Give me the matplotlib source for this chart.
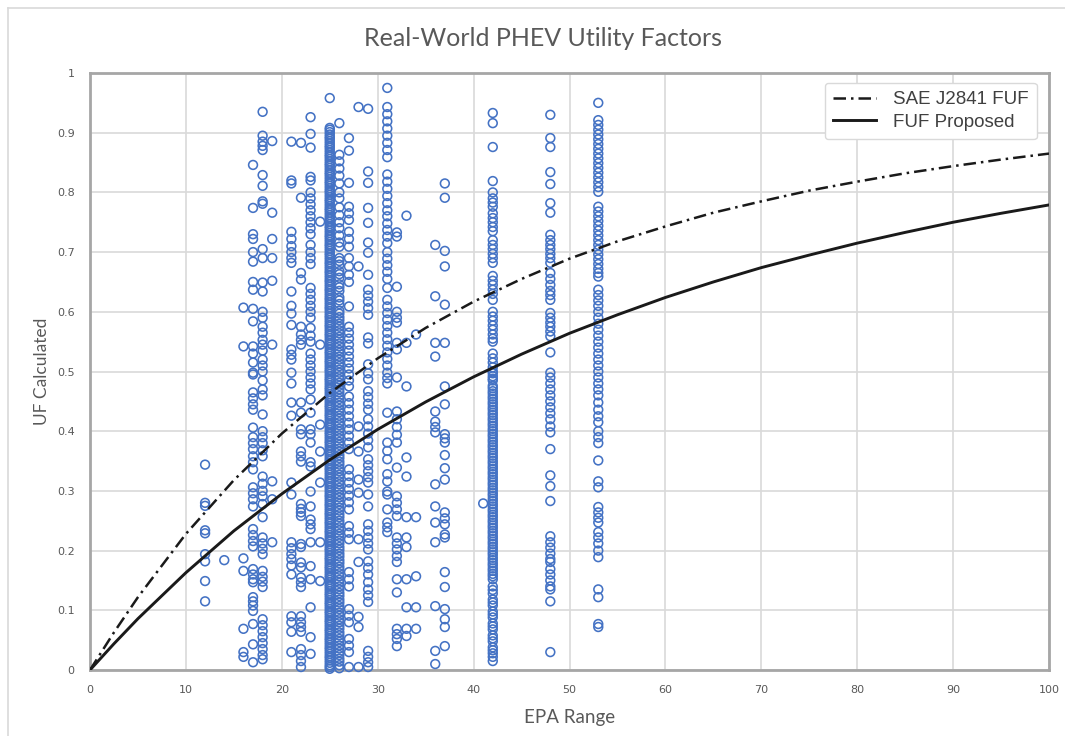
import matplotlib
matplotlib.use("Agg")
import matplotlib.pyplot as plt
from matplotlib.lines import Line2D
import numpy as np

# ---------------- data ----------------
curve_x = [0, 2.5, 5, 10, 15, 20, 25, 30, 35, 40, 45, 50, 55, 60, 65, 70, 75, 80, 85, 90, 95, 100]
sae_fuf = [0, 0.063, 0.122, 0.228, 0.318, 0.396, 0.464, 0.522, 0.573, 0.617, 0.655, 0.689,
           0.718, 0.743, 0.766, 0.785, 0.803, 0.818, 0.832, 0.844, 0.855, 0.865]
fuf_proposed = [0, 0.044, 0.086, 0.163, 0.233, 0.295, 0.352, 0.403, 0.449, 0.491, 0.529, 0.564,
                0.595, 0.624, 0.650, 0.674, 0.695, 0.715, 0.733, 0.750, 0.765, 0.779]

col12 = [0.344, 0.280, 0.275, 0.234, 0.229, 0.194, 0.182, 0.149, 0.115]
col14 = [0.184]
col16 = [0.607, 0.542, 0.187, 0.166, 0.069, 0.030, 0.022]
col17 = [0.846, 0.774, 0.730, 0.722, 0.700, 0.684, 0.650, 0.637, 0.605, 0.584, 0.542, 0.530,
         0.515, 0.498, 0.495, 0.465, 0.455, 0.445, 0.436, 0.406, 0.390, 0.380, 0.370, 0.358,
         0.348, 0.336, 0.306, 0.296, 0.286, 0.274, 0.236, 0.226, 0.216, 0.207, 0.169, 0.160,
         0.152, 0.147, 0.122, 0.115, 0.108, 0.099, 0.077, 0.043, 0.013]
col18 = [0.935, 0.895, 0.885, 0.878, 0.871, 0.829, 0.811, 0.785, 0.781, 0.705, 0.690, 0.649,
         0.634, 0.600, 0.590, 0.575, 0.565, 0.553, 0.545, 0.535, 0.520, 0.510, 0.500, 0.485,
         0.470, 0.460, 0.428, 0.400, 0.390, 0.380, 0.368, 0.358, 0.324, 0.312, 0.300, 0.291,
         0.278, 0.256, 0.222, 0.212, 0.203, 0.194, 0.166, 0.156, 0.148, 0.139, 0.085, 0.075,
         0.065, 0.055, 0.045, 0.035, 0.025, 0.018]
col19 = [0.886, 0.766, 0.722, 0.690, 0.652, 0.545, 0.316, 0.286, 0.214]
col21 = [0.885, 0.820, 0.815, 0.734, 0.722, 0.710, 0.700, 0.690, 0.682, 0.634, 0.610, 0.597,
         0.578, 0.537, 0.528, 0.520, 0.498, 0.480, 0.448, 0.426, 0.314, 0.294, 0.214, 0.204,
         0.194, 0.186, 0.175, 0.160, 0.090, 0.080, 0.064, 0.030]
col22 = [0.883, 0.791, 0.665, 0.654, 0.575, 0.562, 0.553, 0.545, 0.448, 0.431, 0.403, 0.395,
         0.366, 0.358, 0.349, 0.278, 0.270, 0.264, 0.258, 0.211, 0.206, 0.180, 0.172, 0.155,
         0.147, 0.139, 0.090, 0.080, 0.072, 0.064, 0.035, 0.025, 0.015, 0.005]
col23 = [0.926, 0.898, 0.875, 0.826, 0.820, 0.800, 0.790, 0.780, 0.770, 0.760, 0.750, 0.740,
         0.730, 0.712, 0.700, 0.690, 0.680, 0.640, 0.630, 0.620, 0.610, 0.600, 0.590, 0.573,
         0.560, 0.550, 0.530, 0.520, 0.510, 0.500, 0.490, 0.480, 0.470, 0.453, 0.431, 0.403,
         0.395, 0.381, 0.348, 0.341, 0.299, 0.274, 0.252, 0.244, 0.236, 0.214, 0.174, 0.152,
         0.105, 0.055, 0.027]
col24 = [0.751, 0.545, 0.411, 0.366, 0.314, 0.214, 0.149]
col25 = [0.958, 0.908, 0.901, 0.893, 0.886, 0.878, 0.871, 0.863, 0.856, 0.848, 0.841, 0.833,
         0.826, 0.818, 0.811, 0.803, 0.796, 0.788, 0.781, 0.773, 0.766, 0.758, 0.751, 0.743,
         0.736, 0.728, 0.721, 0.713, 0.706, 0.698, 0.691, 0.683, 0.676, 0.668, 0.661, 0.653,
         0.646, 0.638, 0.631, 0.623, 0.616, 0.608, 0.601, 0.593, 0.586, 0.578, 0.571, 0.563,
         0.556, 0.548, 0.541, 0.533, 0.526, 0.518, 0.511, 0.503, 0.496, 0.488, 0.481, 0.473,
         0.466, 0.458, 0.451, 0.443, 0.436, 0.428, 0.421, 0.413, 0.406, 0.398, 0.391, 0.383,
         0.376, 0.368, 0.361, 0.353, 0.346, 0.338, 0.331, 0.323, 0.316, 0.308, 0.301, 0.293,
         0.286, 0.278, 0.271, 0.263, 0.256, 0.248, 0.241, 0.233, 0.226, 0.218, 0.211, 0.203,
         0.196, 0.188, 0.181, 0.173, 0.166, 0.158, 0.151, 0.143, 0.136, 0.128, 0.121, 0.113,
         0.106, 0.098, 0.091, 0.083, 0.076, 0.068, 0.061, 0.053, 0.046, 0.038, 0.031, 0.023,
         0.016, 0.008, 0.002]
col25b = [0.905, 0.897, 0.890, 0.882, 0.875, 0.867, 0.860, 0.852, 0.845, 0.837, 0.830, 0.822,
          0.815, 0.807, 0.800, 0.792, 0.785, 0.777, 0.770, 0.762, 0.755, 0.747, 0.740, 0.732,
          0.725, 0.717, 0.710, 0.702, 0.695, 0.687, 0.680, 0.672, 0.665, 0.657, 0.650, 0.642,
          0.635, 0.627, 0.620, 0.612, 0.605, 0.597, 0.590, 0.582, 0.575, 0.567, 0.560, 0.552,
          0.545, 0.537, 0.530, 0.522, 0.515, 0.507, 0.500, 0.492, 0.485, 0.477, 0.470, 0.462,
          0.455, 0.447, 0.440, 0.432, 0.425, 0.417, 0.410, 0.402, 0.395, 0.387, 0.380, 0.372,
          0.365, 0.357, 0.350, 0.342, 0.335, 0.327, 0.320, 0.312, 0.305, 0.297, 0.290, 0.282,
          0.275, 0.267, 0.260, 0.252, 0.245, 0.237, 0.230, 0.222, 0.215, 0.207, 0.200, 0.192,
          0.185, 0.177, 0.170, 0.162, 0.155, 0.147, 0.140, 0.132, 0.125, 0.117, 0.110, 0.102,
          0.095, 0.087, 0.080, 0.072, 0.065, 0.057, 0.050, 0.042, 0.035, 0.027, 0.020, 0.012,
          0.005]
col26 = [0.916, 0.863, 0.852, 0.840, 0.828, 0.815, 0.800, 0.790, 0.775, 0.762, 0.750, 0.740,
         0.728, 0.716, 0.709, 0.690, 0.679, 0.668, 0.657, 0.646, 0.635, 0.624, 0.613, 0.602,
         0.591, 0.580, 0.569, 0.558, 0.547, 0.536, 0.525, 0.514, 0.503, 0.492, 0.481, 0.470,
         0.459, 0.448, 0.437, 0.426, 0.415, 0.404, 0.393, 0.382, 0.371, 0.360, 0.349, 0.338,
         0.327, 0.316, 0.305, 0.294, 0.283, 0.272, 0.261, 0.250, 0.239, 0.228, 0.217, 0.206,
         0.195, 0.184, 0.173, 0.162, 0.151, 0.140, 0.129, 0.118, 0.107, 0.096, 0.085, 0.074,
         0.063, 0.052, 0.041, 0.030, 0.019, 0.008]
col26b = [0.685, 0.663, 0.641, 0.619, 0.597, 0.586, 0.575, 0.564, 0.553, 0.542, 0.531, 0.520,
          0.509, 0.498, 0.487, 0.476, 0.465, 0.454, 0.443, 0.432, 0.421, 0.410, 0.399, 0.388,
          0.377, 0.366, 0.355, 0.344, 0.333, 0.322, 0.311, 0.300, 0.289, 0.278, 0.267, 0.256,
          0.245, 0.234, 0.223, 0.212, 0.201, 0.190, 0.179, 0.168, 0.157, 0.146, 0.135, 0.124,
          0.113, 0.102, 0.091, 0.080, 0.069, 0.058, 0.047, 0.036, 0.025, 0.014, 0.003]
col27 = [0.891, 0.870, 0.816, 0.776, 0.765, 0.754, 0.734, 0.722, 0.709, 0.690, 0.676, 0.662,
         0.650, 0.609, 0.575, 0.565, 0.555, 0.545, 0.535, 0.525, 0.515, 0.505, 0.495, 0.485,
         0.475, 0.458, 0.447, 0.436, 0.425, 0.414, 0.403, 0.392, 0.381, 0.370, 0.336, 0.325,
         0.314, 0.303, 0.292, 0.281, 0.269, 0.241, 0.230, 0.219, 0.164, 0.152, 0.140, 0.102,
         0.091, 0.080, 0.052, 0.041, 0.030, 0.005]
col28 = [0.943, 0.676, 0.408, 0.366, 0.319, 0.297, 0.219, 0.181, 0.089, 0.072, 0.005]
col29 = [0.940, 0.835, 0.816, 0.774, 0.749, 0.716, 0.699, 0.662, 0.637, 0.627, 0.617, 0.606,
         0.595, 0.557, 0.547, 0.512, 0.497, 0.487, 0.467, 0.457, 0.446, 0.436, 0.420, 0.408,
         0.396, 0.385, 0.373, 0.353, 0.343, 0.333, 0.323, 0.314, 0.294, 0.274, 0.244, 0.233,
         0.222, 0.212, 0.202, 0.182, 0.171, 0.160, 0.147, 0.135, 0.125, 0.114, 0.032, 0.022,
         0.013, 0.005]
col31 = [0.975, 0.943, 0.931, 0.919, 0.907, 0.895, 0.883, 0.871, 0.859, 0.830, 0.818, 0.806,
         0.794, 0.782, 0.770, 0.760, 0.748, 0.737, 0.726, 0.715, 0.700, 0.689, 0.678, 0.667,
         0.655, 0.640, 0.620, 0.609, 0.598, 0.587, 0.576, 0.565, 0.554, 0.543, 0.532, 0.521,
         0.510, 0.498, 0.489, 0.480, 0.431, 0.381, 0.367, 0.353, 0.328, 0.316, 0.299, 0.294,
         0.269, 0.247, 0.239, 0.231]
col32 = [0.733, 0.726, 0.642, 0.600, 0.590, 0.582, 0.548, 0.537, 0.490, 0.433, 0.420, 0.407,
         0.394, 0.381, 0.339, 0.291, 0.280, 0.269, 0.258, 0.222, 0.212, 0.202, 0.191, 0.181,
         0.152, 0.130, 0.069, 0.060, 0.052, 0.040]
col33 = [0.761, 0.548, 0.475, 0.356, 0.324, 0.256, 0.222, 0.206, 0.152, 0.105, 0.069, 0.057]
col34 = [0.562, 0.256, 0.157, 0.105, 0.069]
col36 = [0.712, 0.626, 0.548, 0.525, 0.433, 0.416, 0.407, 0.398, 0.311, 0.274, 0.247, 0.214,
         0.107, 0.032, 0.010]
col37 = [0.815, 0.791, 0.702, 0.676, 0.612, 0.548, 0.475, 0.445, 0.395, 0.388, 0.381, 0.360,
         0.338, 0.319, 0.264, 0.254, 0.244, 0.227, 0.222, 0.164, 0.139, 0.102, 0.085, 0.072,
         0.040]
col41 = [0.279]
col42 = [0.933, 0.916, 0.876, 0.819, 0.800, 0.790, 0.783, 0.776, 0.765, 0.757, 0.750, 0.742,
         0.735, 0.720, 0.712, 0.705, 0.697, 0.690, 0.682, 0.660, 0.652, 0.645, 0.637, 0.630,
         0.620, 0.600, 0.592, 0.585, 0.577, 0.570, 0.562, 0.555, 0.550, 0.530, 0.522, 0.515,
         0.507, 0.500, 0.492, 0.485, 0.476, 0.467, 0.458, 0.449, 0.440, 0.431, 0.422, 0.413,
         0.404, 0.395, 0.386, 0.377, 0.368, 0.359, 0.350, 0.341, 0.332, 0.323, 0.314, 0.305,
         0.296, 0.287, 0.278, 0.269, 0.260, 0.251, 0.242, 0.233, 0.224, 0.215, 0.206, 0.197,
         0.188, 0.179, 0.170, 0.161, 0.152, 0.140, 0.128, 0.118, 0.108, 0.098, 0.088, 0.078,
         0.068, 0.058, 0.048, 0.038, 0.028, 0.015]
col42b = [0.497, 0.488, 0.472, 0.463, 0.454, 0.445, 0.436, 0.427, 0.418, 0.409, 0.400, 0.391,
          0.382, 0.373, 0.364, 0.355, 0.346, 0.337, 0.328, 0.319, 0.310, 0.301, 0.292, 0.283,
          0.274, 0.265, 0.256, 0.247, 0.238, 0.229, 0.220, 0.211, 0.202, 0.193, 0.184, 0.175,
          0.166, 0.157, 0.134, 0.113, 0.093, 0.073, 0.053, 0.033, 0.022]
col48 = [0.930, 0.891, 0.876, 0.834, 0.814, 0.782, 0.766, 0.729, 0.720, 0.712, 0.705, 0.697,
         0.690, 0.682, 0.665, 0.655, 0.645, 0.635, 0.628, 0.620, 0.598, 0.590, 0.582, 0.575,
         0.567, 0.559, 0.532, 0.498, 0.490, 0.480, 0.470, 0.460, 0.450, 0.440, 0.430, 0.420,
         0.408, 0.398, 0.370, 0.326, 0.308, 0.283, 0.224, 0.214, 0.205, 0.195, 0.186, 0.181,
         0.169, 0.160, 0.150, 0.140, 0.135, 0.115, 0.030]
col53 = [0.950, 0.921, 0.913, 0.905, 0.897, 0.889, 0.881, 0.873, 0.865, 0.857, 0.849, 0.841,
         0.833, 0.825, 0.817, 0.809, 0.801, 0.776, 0.768, 0.760, 0.752, 0.744, 0.736, 0.728,
         0.720, 0.712, 0.704, 0.696, 0.688, 0.680, 0.672, 0.665, 0.659, 0.637, 0.628, 0.619,
         0.610, 0.600, 0.590, 0.580, 0.570, 0.560, 0.550, 0.540, 0.530, 0.520, 0.510, 0.500,
         0.490, 0.480, 0.470, 0.460, 0.448, 0.436, 0.425, 0.415, 0.400, 0.390, 0.380, 0.351,
         0.316, 0.306, 0.273, 0.264, 0.255, 0.247, 0.231, 0.222, 0.212, 0.200, 0.189, 0.135,
         0.122, 0.077, 0.072]

range_cols = [(12, col12), (14, col14), (16, col16), (17, col17), (18, col18), (19, col19),
              (21, col21), (22, col22), (23, col23), (24, col24), (25, col25), (25, col25b),
              (26, col26), (26, col26b), (27, col27), (28, col28), (29, col29), (31, col31),
              (32, col32), (33, col33), (34, col34), (36, col36), (37, col37), (41, col41),
              (42, col42), (42, col42b), (48, col48), (53, col53)]

x_ticks = [0, 10, 20, 30, 40, 50, 60, 70, 80, 90, 100]
y_ticks = [0, 0.1, 0.2, 0.3, 0.4, 0.5, 0.6, 0.7, 0.8, 0.9, 1]
y_tick_labels = ["0", "0.1", "0.2", "0.3", "0.4", "0.5", "0.6", "0.7", "0.8", "0.9", "1"]

# ---------------- figure ----------------
W, H = 1065, 736
fig = plt.figure(figsize=(W / 100, H / 100), dpi=100)
fig.patch.set_facecolor("white")

# outer chart-area border (light gray)
fig.add_artist(Line2D([8 / W, 8 / W], [0, 1 - 8 / H], color="#d9d9d9", lw=1.2,
                      transform=fig.transFigure))
fig.add_artist(Line2D([8 / W, 1], [1 - 8 / H, 1 - 8 / H], color="#d9d9d9", lw=1.2,
                      transform=fig.transFigure))

ax = fig.add_axes([90 / W, 1 - 670 / H, (1049 - 90) / W, (670 - 73) / H])

xs, ys = [], []
for xv, vals in range_cols:
    xs.extend([xv] * len(vals))
    ys.extend(vals)
ax.scatter(xs, ys, s=40, facecolors="none", edgecolors="#4472C4", linewidths=1.15,
           zorder=3, clip_on=False)

ax.plot(curve_x, sae_fuf, color="#1a1a1a", lw=1.8, linestyle=(0, (5, 2, 1, 2)),
        zorder=4, label="SAE J2841 FUF")
ax.plot(curve_x, fuf_proposed, color="#1a1a1a", lw=2.1, linestyle="-",
        zorder=4, label="FUF Proposed")

ax.set_xlim(0, 100)
ax.set_ylim(0, 1)
ax.set_xticks(x_ticks)
ax.set_xticklabels([str(t) for t in x_ticks])
ax.set_yticks(y_ticks)
ax.set_yticklabels(y_tick_labels)
ax.grid(True, color="#d9d9d9", lw=1.2, zorder=0)
ax.set_axisbelow(True)
ax.tick_params(length=0, labelsize=8, labelcolor="#595959", pad=11)
for lab in ax.get_xticklabels() + ax.get_yticklabels():
    lab.set_family("DejaVu Sans")
for sp in ax.spines.values():
    sp.set_color("#a6a6a6")
    sp.set_linewidth(2.0)

ax.set_xlabel("EPA Range", fontsize=13.5, color="#595959", family="Lato", labelpad=10)
ax.set_ylabel("UF Calculated", fontsize=12.5, color="#595959", family="Lato", labelpad=5)

fig.text(543 / W, 1 - 38 / H, "Real-World PHEV Utility Factors", ha="center", va="center",
         fontsize=18, color="#595959", family="Lato")

leg = ax.legend(loc="upper right", bbox_to_anchor=(0.9935, 0.9935),
                prop={"family": "Liberation Sans", "size": 13.5}, frameon=True,
                fancybox=True, edgecolor="#d9d9d9", facecolor="white", framealpha=1,
                handlelength=2.3, borderpad=0.45, labelspacing=0.3, handletextpad=0.9,
                borderaxespad=0.3)
leg.get_frame().set_linewidth(1.0)
for t in leg.get_texts():
    t.set_color("#404040")

fig.savefig("out.png", dpi=100, facecolor="white")
